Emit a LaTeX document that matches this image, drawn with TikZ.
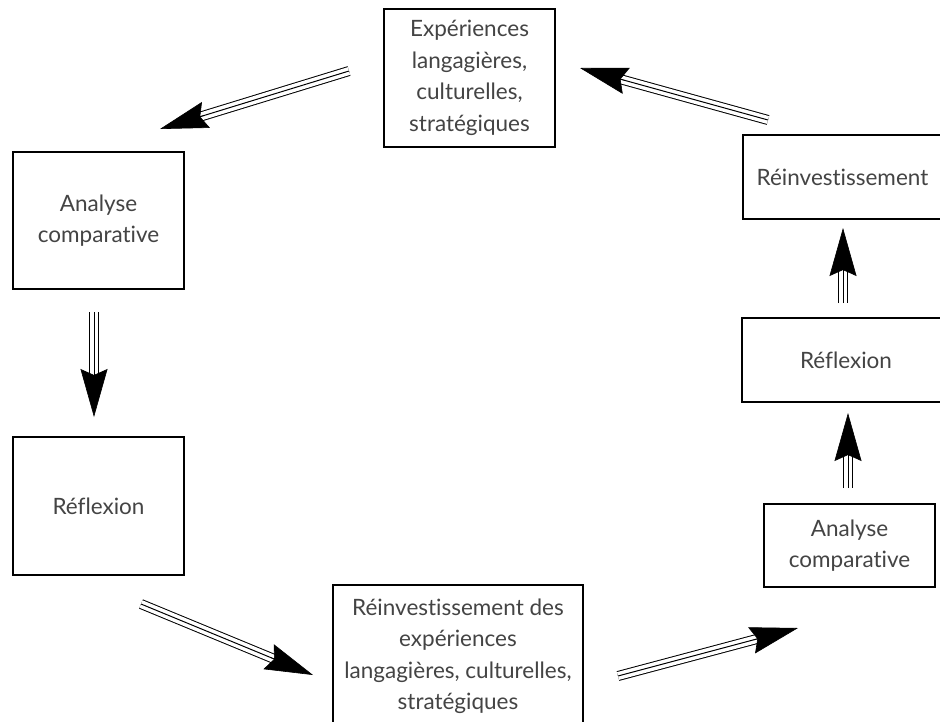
\documentclass[tikz,border=0pt]{standalone}
\usepackage{fontspec}
\setmainfont{Lato}[Ligatures={NoCommon,NoRare}]
\usetikzlibrary{arrows.meta,calc}
\definecolor{txt}{HTML}{444444}
\tikzset{
  box/.style={draw=black, line width=1.3pt, inner sep=0pt, align=center,
    text=txt, font=\fontsize{22.5}{31.5}\selectfont, anchor=center},
  headtip/.style={-{Stealth[length=48pt,width=27pt,inset=6pt]}, line width=0.6pt}
}
\newcommand{\triarrow}[2]{%
  \draw[line width=10pt] (#1) -- ($(#2)!40pt!(#1)$);
  \draw[white, line width=8pt] (#1) -- ($(#2)!39pt!(#1)$);
  \draw[line width=1pt] (#1) -- ($(#2)!40pt!(#1)$);
  \draw[headtip] ($(#2)!46pt!(#1)$) -- (#2);
}
\begin{document}
\begin{tikzpicture}[x=1pt,y=-1pt]
\clip (0,0) rectangle (940,721);
\fill[white] (0,0) rectangle (940,721);
% boxes
\node[box, minimum width=171pt, minimum height=138pt] (exp) at (469.5,78)
  {Expériences\\langagières,\\culturelles,\\stratégiques};
\node[box, minimum width=171pt, minimum height=137pt] (anaL) at (98.5,220.5)
  {Analyse\\comparative};
\node[box, minimum width=171pt, minimum height=138pt] (refL) at (98.5,506)
  {Réflexion};
\node[box, minimum width=250pt, minimum height=143pt] (reinvB) at (458,656.5)
  {Réinvestissement des\\expériences\\langagières, culturelles,\\stratégiques};
\node[box, minimum width=171pt, minimum height=83pt] (anaR) at (849.5,545.5)
  {Analyse\\comparative};
\node[box, minimum width=208pt, minimum height=84pt] (refR) at (846,360)
  {Réflexion};
\node[box, minimum width=199pt, minimum height=84pt] (reinvR) at (842.5,177)
  {Réinvestissement};
% arrow end points
\coordinate (a1s) at (349,71);  \coordinate (a1e) at (160,129);
\coordinate (a2s) at (94,312);  \coordinate (a2e) at (94,417);
\coordinate (a3s) at (141,604); \coordinate (a3e) at (313,675);
\coordinate (a4s) at (618,676); \coordinate (a4e) at (798,628);
\coordinate (a5s) at (848,488); \coordinate (a5e) at (848,413);
\coordinate (a6s) at (843,303); \coordinate (a6e) at (843,228);
\coordinate (a7s) at (768,120); \coordinate (a7e) at (580,68);
\triarrow{a1s}{a1e}
\triarrow{a2s}{a2e}
\triarrow{a3s}{a3e}
\triarrow{a4s}{a4e}
\triarrow{a5s}{a5e}
\triarrow{a6s}{a6e}
\triarrow{a7s}{a7e}
\end{tikzpicture}
\end{document}
